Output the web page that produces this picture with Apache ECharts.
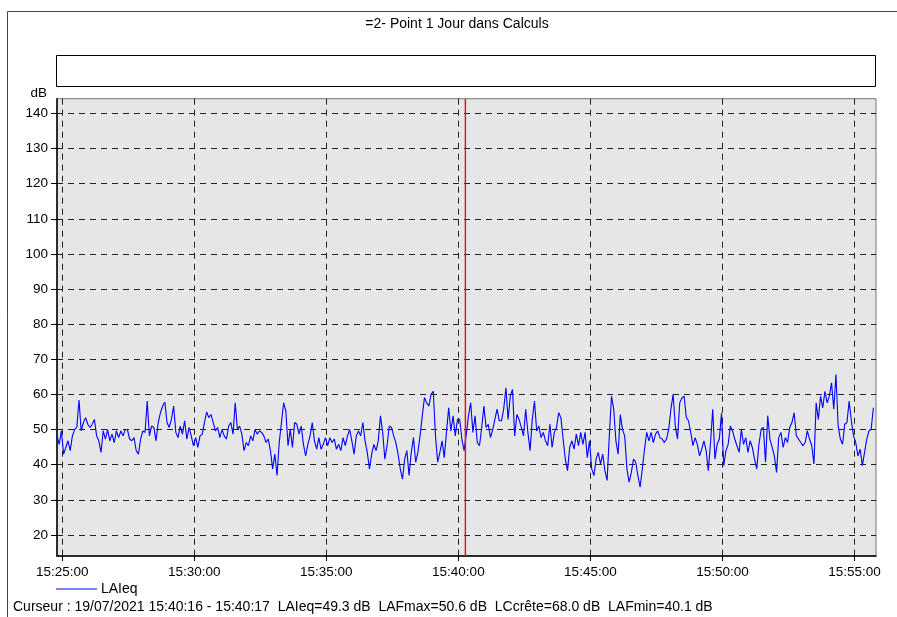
<!DOCTYPE html>
<html>
<head>
<meta charset="utf-8">
<script src="https://cdn.jsdelivr.net/npm/echarts@6/dist/echarts.min.js"></script>
<style>
  html, body { margin: 0; padding: 0; background: #fff; }
  #chart { width: 897px; height: 617px; }
</style>
</head>
<body>
<div id="chart"></div>
<script>
// seconds of day
const startSec = 15 * 3600 + 24 * 60 + 48;   // 15:24:48
const stepSec = 5;
const xMin = 15 * 3600 + 24 * 60 + 48;
const xMax = 15 * 3600 + 55 * 60 + 49;
const yMin = 14;
const yMax = 144.2;
const xTicks = [55500, 55800, 56100, 56400, 56700, 57000, 57300];
const yTicks = [20, 30, 40, 50, 60, 70, 80, 90, 100, 110, 120, 130, 140];
const cursorSec = 15 * 3600 + 40 * 60 + 16;

const laeq = [
  48.2,45.8,49.6,43,44.9,46.8,44,48.2,50,50.6,
  58.4,49.6,52,53.4,51.5,50.6,51.5,52.9,48.2,46.8,
  43.5,49.6,47.3,50,46.8,48.7,46.3,49.6,47.7,49.6,
  48.2,50,50,47.3,46.8,47.7,44,43,47.3,49.6,
  49.2,58.1,48.2,51,50.6,46.8,52,54.8,56.7,57.8,
  52,50.6,52.9,56.7,49.2,47.7,51,48.7,52.5,47.3,
  50.6,48.2,45.4,47.7,44.9,48.2,48.7,52,55,53.4,
  54.3,52,49.6,50.6,47.7,50,48.2,47.3,51,52,
  48.7,57.6,50,51,48.7,44,46.3,45.4,48.2,46.8,
  50,48.7,49.6,
  49.2,48.2,46.3,47.3,44,38.8,43,
  36.9,46.3,52,57.6,55.3,45.4,50,44.9,52,51.5,
  48.7,51,45.8,42.5,45.8,48.2,52,46.8,44.4,47.7,
  44.4,45.8,47.7,45.4,47.7,46.3,47.3,44.4,45.8,44,
  47.7,45.4,48.2,50,46.8,43,48.2,49.6,48.2,52,
  46.8,43.5,38.8,43,45.8,44,46.8,53.9,49.2,41.6,
  45.4,51,50.6,48.2,46.3,43,38.8,35.9,41.6,44,
  36.9,43.5,47.7,40.7,43.5,48.2,53.9,59.1,57.6,56.7,
  60,60.9,48.2,40.7,43.5,46.8,42,49.2,56.2,49.6,
  53.9,48.2,52.9,
  52.9,47.3,44,48.7,53.9,57.6,49.2,
  53.9,46.3,45.4,50.6,56.7,50.6,51.5,47.7,50,52.9,
  55.8,52.5,52.5,55.8,61.9,52.9,59.5,61.4,48.2,54.3,
  52.9,50.6,48.2,55.8,49.2,44,52.9,58.1,49.6,51,
  47.7,49.2,46.8,45.4,51.5,44.9,49.2,50.6,54.8,53.4,
  47.3,41.6,38.3,44.9,46.8,44.4,48.7,45.4,49.2,45.8,
  49.2,42,46.8,38.8,36.9,41.6,43.5,40.2,43,38.3,
  35.5,48.2,59.5,55.8,46.8,43,54.3,50,48.2,38.8,
  35,37.8,41.6,40.7,36.9,33.6,38.8,44.4,49.2,46.8,
  49.2,46.3,48.7,49.6,
  47.7,47.3,46.3,47.3,50.1,55.8,
  60,51,47.3,57.6,59,59.5,53.4,52.5,49.2,45.4,
  47.7,45.8,42.5,44.4,46.8,44,38.3,46.3,55.8,41.6,
  45.8,47.3,54.8,39.7,44,45.8,51,49.6,47.3,45.4,
  43.5,50.1,45.8,47.7,43.5,46.8,44.9,41.6,38.8,45.8,
  50.1,50.6,40.7,53.9,47.3,44.9,42.5,37.8,47.7,49.2,
  44.9,47.7,46.3,50.6,52,54.8,48.2,47.3,46.3,45.4,
  46.3,49.6,47.3,45.4,40.2,57.6,52.9,59.5,56.2,60.9,
  57.6,59.5,63.3,55.8,65.7,51,47.3,45.8,51.5,52,
  58.1,52.5,48.2,46.3,42.5,44.4,39.7,43.5,47.3,49.6,
  50.1,56.2
];

const fontFam = "'Liberation Sans', Arial, Helvetica, sans-serif";
const cursorText = "Curseur : 19/07/2021 15:40:16 - 15:40:17  LAIeq=49.3 dB  LAFmax=50.6 dB  LCcrête=68.0 dB  LAFmin=40.1 dB";

const pad = n => (n < 10 ? "0" : "") + n;
const fmtTime = s => pad(Math.floor(s / 3600)) + ":" + pad(Math.floor(s / 60) % 60) + ":" + pad(s % 60);

const seriesData = laeq.map((v, i) => [startSec + i * stepSec, v]);

const chart = echarts.init(document.getElementById("chart"));
const option = {
  animation: false,
  textStyle: { fontFamily: fontFam },
  title: {
    text: "=2- Point 1 Jour dans Calculs",
    left: 452,
    textAlign: "center",
    top: 12,
    textStyle: { fontSize: 14, fontWeight: "normal", color: "#000", fontFamily: fontFam }
  },
  graphic: [
    { type: "rect", shape: { x: 7.5, y: 11.5, width: 1000, height: 1000 }, style: { fill: "none", stroke: "#444", lineWidth: 1 } },
    { type: "rect", shape: { x: 56.5, y: 55.5, width: 819, height: 31 }, style: { fill: "#fff", stroke: "#000", lineWidth: 1 } },
    { type: "text", left: 13, top: 600, style: { text: cursorText, fontSize: 14, fill: "#000", fontFamily: fontFam } }
  ],
  legend: {
    left: 56,
    top: 582,
    padding: 0,
    itemWidth: 41,
    itemHeight: 1.5,
    itemGap: 4,
    data: [{ name: "LAIeq", icon: "rect", itemStyle: { color: "#5555ff" } }],
    textStyle: { fontSize: 14, color: "#000", fontFamily: fontFam, padding: [0, 0, 0, -1] }
  },
  grid: {
    left: 57,
    right: 21,
    top: 98.7,
    bottom: 61,
    show: true,
    backgroundColor: "#e6e6e6",
    borderColor: "#777",
    borderWidth: 1
  },
  xAxis: {
    type: "value",
    min: xMin,
    max: xMax,
    axisLine: { lineStyle: { color: "#000", width: 1.5 } },
    axisTick: { customValues: xTicks, length: 5, lineStyle: { color: "#000" } },
    axisLabel: {
      customValues: xTicks,
      formatter: v => fmtTime(v),
      fontSize: 13.5,
      color: "#000",
      margin: 9,
      fontFamily: fontFam
    },
    splitLine: { show: true, lineStyle: { color: "#222", type: [6, 5], width: 1 } }
  },
  yAxis: {
    type: "value",
    min: yMin,
    max: yMax,
    name: "dB",
    nameLocation: "end",
    nameGap: -2,
    nameTextStyle: { fontSize: 13.5, color: "#000", align: "right", padding: [0, 10, 0, 0], fontFamily: fontFam },
    axisLine: { show: true, lineStyle: { color: "#000", width: 1.5 } },
    axisTick: { show: true, customValues: yTicks, length: 6, lineStyle: { color: "#000" } },
    axisLabel: { customValues: yTicks, fontSize: 13.5, color: "#000", margin: 9, fontFamily: fontFam },
    splitLine: { show: true, lineStyle: { color: "#222", type: [6, 5], width: 1 } }
  },
  series: [
    {
      name: "LAIeq",
      type: "line",
      data: seriesData,
      symbol: "none",
      lineStyle: { color: "#0000ff", width: 1.1 },
      itemStyle: { color: "#0000ff" },
      z: 3
    },
    {
      name: "cursor",
      type: "line",
      data: [[cursorSec, yMin], [cursorSec, yMax]],
      symbol: "none",
      silent: true,
      lineStyle: { color: "#ff0000", width: 1.4, opacity: 1 },
      itemStyle: { color: "#ff0000" },
      emphasis: { disabled: true },
      z: 4
    }
  ]
};
chart.setOption(option);
</script>
</body>
</html>
